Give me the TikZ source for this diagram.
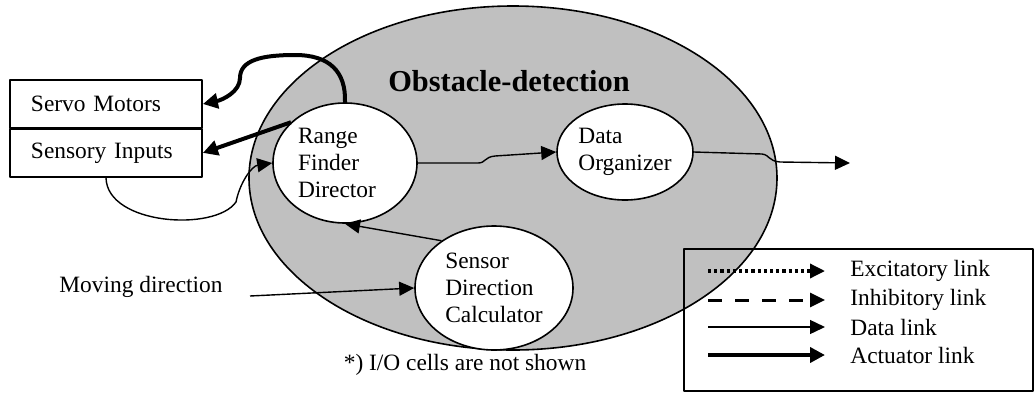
\documentclass[tikz,border=0pt]{standalone}
\usepackage{fontspec}
\setmainfont{Liberation Serif}
\usetikzlibrary{arrows.meta,shapes.geometric}
\definecolor{odgray}{RGB}{192,192,192}

\tikzset{
  cell/.style={ellipse,draw,fill=white,line width=0.8pt,inner sep=0pt,align=left},
  iobox/.style={rectangle,draw,line width=0.9pt,minimum height=24pt,text width=75pt,inner xsep=10.5pt,align=left},
  datalink/.style={-{Triangle[length=7.5pt,width=7pt]},line width=0.7pt},
  actlink/.style={-{Triangle[length=7.5pt,width=7.5pt]},line width=2pt},
  exclink/.style={datalink,line width=1.7pt,dash pattern=on 1.6pt off 1.5pt},
  inhlink/.style={datalink,line width=1.5pt,dash pattern=on 7pt off 6.5pt},
  legtext/.style={anchor=west,inner sep=0pt},
}

\begin{document}
\begin{tikzpicture}[font=\fontsize{11.7}{13.5}\selectfont,line join=round,x=0.5pt,y=-0.5pt]
\useasboundingbox (0,0) rectangle (1035,392);
% module
\node[ellipse,draw,fill=odgray,line width=0.8pt,minimum width=264pt,minimum height=172pt] (od) at (513,178) {};
\node[font=\fontsize{15.2}{18}\selectfont\bfseries] (odtitle) at (509,81) {Obstacle-detection};
% i/o boxes
\node[iobox] (sm) at (106,104) {Servo Motors};
\node[iobox,anchor=north,yshift=0.45pt] (si) at (sm.south) {Sensory Inputs};
% cells
\node[cell,minimum width=72pt,minimum height=60pt] (rfd) at (345,163) {Range\\Finder\\Director\hspace*{8pt}};
\node[cell,minimum width=68pt,minimum height=48pt] (do) at (625,152) {Data\\Organizer};
\node[cell,minimum width=79pt,minimum height=62pt] (sdc) at (494,288) {Sensor\\Direction\\Calculator};
\node (mvtext) at (141,287) {Moving direction};
\coordinate (mvstart) at (250,296);
\coordinate (dout) at (850,163);
% links
\draw[actlink] (rfd.north) .. controls (346,72) and (330,55) .. (295,55)
  .. controls (262,55) and (240,60) .. (240,78) .. controls (240,92) and (222,100) .. (sm.east);
\draw[actlink] (rfd.143) -- (si.east);
\draw[datalink] (si.south) .. controls (107,225) and (215,232) .. (236,202)
  .. controls (240,182) and (252,166) .. (rfd.west);
\draw[datalink] (rfd.east) -- (478,163) .. controls (486,163) and (484,157) .. (495,156) -- (do.west);
\draw[datalink] (do.east) -- (762,154) .. controls (770,155) and (768,161) .. (780,162) -- (dout);
\draw[datalink] (sdc.138) -- (rfd.south);
\draw[datalink] (mvstart) -- (sdc.west);
\node (note) at (465,365) {*) I/O cells are not shown};
% legend
\node[draw,line width=0.9pt,minimum width=174.5pt,minimum height=71pt,anchor=north west] (legend) at (683,248) {};
\foreach \y/\sty/\txt [count=\i] in {271/exclink/Excitatory link,300/inhlink/Inhibitory link,327/datalink/Data link,355/actlink/Actuator link} {
  \node[legtext] (leg\i) at (850,\y) {\txt};
  \draw[\sty] ([xshift=-71pt]leg\i.west) -- ([xshift=-12.5pt]leg\i.west);
}
\end{tikzpicture}
\end{document}
